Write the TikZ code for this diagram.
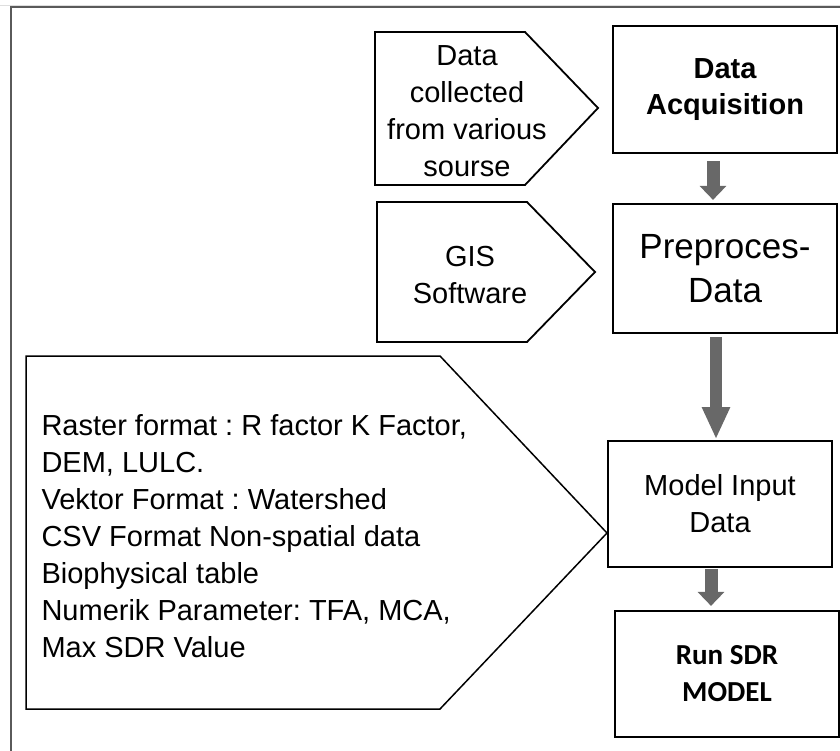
\documentclass[tikz,border=0pt]{standalone}
\usepackage{fontspec}
\setmainfont{Liberation Sans}
\newfontfamily\calibrifont{Carlito}
\usetikzlibrary{arrows.meta}
\definecolor{arrowgray}{RGB}{104,104,104}
\definecolor{framegray}{RGB}{90,90,90}
\frenchspacing
\tikzset{
  box/.style = {draw, line width = 2.2pt, minimum width = 224pt, minimum height = 127pt, align = center, inner sep = 0pt},
  pentagon/.style = {draw, line width = 1.8pt, line join = miter},
  blockarrow/.style = {arrowgray, line width = 13pt, -{Triangle[width = 26pt, length = 14pt]}},
  txt/.style = {font = \fontsize{29}{37}\selectfont, align = center}
}

\begin{document}
\begin{tikzpicture}[x = 1pt, y = -1pt]
  \useasboundingbox (0, 0) rectangle (840, 751);
  \draw[framegray!20, line width = 1pt] (0, 5.5) -- (840, 5.5);
  \draw[framegray, line width = 1.5pt] (11, 751) -- (11, 7) -- (840, 7);
  % steps on the right
  \node[box, txt, font = \fontsize{29}{36}\selectfont\bfseries] (acq) at (725, 89.5) {Data\\Acquisition};
  \node[box, txt, font = \fontsize{35}{44}\selectfont, minimum height = 129pt] (pre) at (725, 268.5) {Preproces-\\Data};
  \node[box, txt, line width = 1.6pt, minimum height = 126pt] (model) at (720, 504) {Model Input\\Data};
  \node[box, txt, font = \fontsize{29}{37}\selectfont\calibrifont\bfseries, minimum height = 126pt] (run) at (727, 674) {Run SDR\\MODEL};
  % inputs on the left
  \draw[pentagon] (375, 32) -- (525, 32) -- (598, 108) -- (525, 185) -- (375, 185) -- cycle;
  \node[txt] (source) at (467, 111) {Data\\collected\\from various\\sourse};
  \draw[pentagon] (377, 202) -- (527, 202) -- (595, 272) -- (527, 342) -- (377, 342) -- cycle;
  \node[txt] (gis) at (470, 275) {GIS\\Software};
  \draw[pentagon, line width = 1.5pt] (26, 356) -- (440, 356) -- (607, 533) -- (440, 709) -- (26, 709) -- cycle;
  \node[txt, align = left, anchor = west] (inputs) at (38, 536) {Raster format : R factor K Factor,\\DEM, LULC.\\Vektor Format : Watershed\\CSV Format Non-spatial data\\Biophysical table\\Numerik Parameter: TFA, MCA,\\Max SDR Value};
  % arrows
  \draw[blockarrow, shorten <= 7pt, shorten >= 3pt] ([xshift = -12pt]acq.south) -- ([xshift = -12pt]pre.north);
  \draw[blockarrow, line width = 12pt, -{Triangle[width = 26pt, length = 32pt]}, shorten <= 3pt, shorten >= 1pt] ([xshift = -9pt]pre.south) -- ([xshift = -4pt]model.north);
  \draw[blockarrow, shorten <= 1pt, shorten >= 4pt] ([xshift = -9pt]model.south) -- ([xshift = -16pt]run.north);
\end{tikzpicture}
\end{document}
